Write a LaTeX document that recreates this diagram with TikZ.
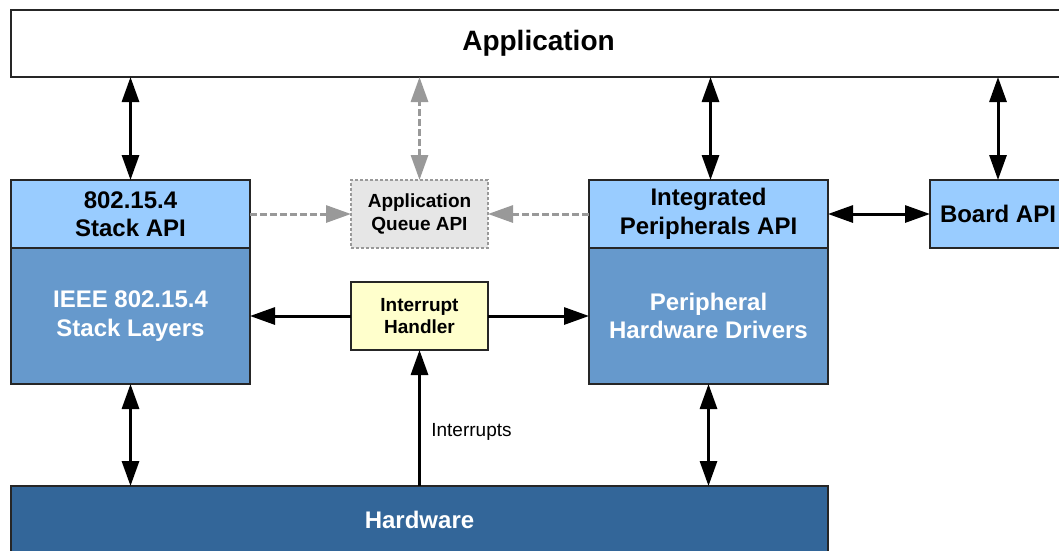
\documentclass[tikz,border=0pt]{standalone}
\usepackage{fontspec}
\setmainfont{Liberation Sans}
\usetikzlibrary{arrows.meta,positioning}
\definecolor{apiblue}{HTML}{99CCFF}
\definecolor{layerblue}{HTML}{6699CC}
\definecolor{hwblue}{HTML}{336699}
\definecolor{irqyellow}{HTML}{FFFFCC}
\definecolor{queuegray}{HTML}{E6E6E6}
\definecolor{dashgray}{HTML}{999999}

\begin{document}
\begin{tikzpicture}[x=1pt, y=-1pt]
\tikzstyle{blk}=[rectangle, draw=black!85, line width=1.5pt, inner sep=0pt, outer sep=0pt, align=center, font=\bfseries\fontsize{24}{28.5}\selectfont]
\tikzstyle{api}=[blk, fill=apiblue, minimum width=239pt, minimum height=68pt]
\tikzstyle{layer}=[blk, fill=layerblue, text=white, minimum width=239pt, minimum height=136pt]
\tikzstyle{small}=[blk, minimum width=137pt, minimum height=68pt, font=\bfseries\fontsize{19}{22.5}\selectfont]
\tikzstyle{queue}=[small, fill=queuegray, draw=dashgray, line width=2pt, dash pattern=on 3pt off 2pt]
\tikzstyle{connect}=[{Triangle[length=25pt,width=17pt]}-{Triangle[length=25pt,width=17pt]}, line width=3pt]
\tikzstyle{oneway}=[-{Triangle[length=25pt,width=17pt]}, line width=3pt]
\tikzstyle{soft}=[-{Triangle[length=25pt,width=17pt]}, line width=3pt, draw=dashgray, dash pattern=on 7pt off 3pt]
\tikzstyle{softboth}=[soft, {Triangle[length=25pt,width=17pt]}-{Triangle[length=25pt,width=17pt]}]

\useasboundingbox (0,0) rectangle (1059,550);

  \node[blk, anchor=north west, minimum width=1055pt, minimum height=67pt, font=\bfseries\fontsize{28}{32}\selectfont] (app) at (11,10) {Application};

  \node[api, anchor=north west] (stackapi) at (11,180)     {802.15.4\\Stack API};
  \node[layer] (stacklayers) [below=0pt of stackapi]      {IEEE 802.15.4\\Stack Layers};

  \node[api, anchor=north west] (periphapi) at (589,180)  {Integrated\\Peripherals API};
  \node[layer] (drivers)     [below=0pt of periphapi]     {Peripheral\\Hardware Drivers};

  \node[queue, anchor=north west] (queueapi) at (351,180) {Application\\Queue API};
  \node[small, fill=irqyellow, anchor=north west, minimum height=68pt] (irq) at (351,282) {Interrupt\\Handler};

  \node[blk, fill=apiblue, anchor=north west, minimum width=136pt, minimum height=68pt] (board) at (930,180) {Board API};

  \node[blk, fill=hwblue, text=white, anchor=north west, minimum width=817pt, minimum height=67pt] (hw) at (11,486) {Hardware};

  % links to the application
  \path (stackapi.north) edge [connect] (stackapi.north |- app.south);
  \path (queueapi.north) edge [softboth] (queueapi.north |- app.south);
  \path ([xshift=2pt]periphapi.north) edge [connect] ([xshift=2pt]periphapi.north |- app.south);
  \path (board.north) edge [connect] (board.north |- app.south);

  % api level
  \path (stackapi.east) edge [soft] (queueapi.west);
  \path (periphapi.west) edge [soft] (queueapi.east);
  \path (periphapi.east) edge [connect] (board.west);

  % interrupts
  \path (irq.west) edge [oneway] (irq.west -| stacklayers.east);
  \path (irq.east) edge [oneway] (irq.east -| drivers.west);
  \path (irq.south |- hw.north) edge [oneway] node [pos=0.4, right, xshift=7pt, font=\fontsize{19}{22}\selectfont] {Interrupts} (irq.south);

  % down to the hardware
  \path (stacklayers.south) edge [connect] (stacklayers.south |- hw.north);
  \path (drivers.south) edge [connect] (drivers.south |- hw.north);

\end{tikzpicture}
\end{document}
